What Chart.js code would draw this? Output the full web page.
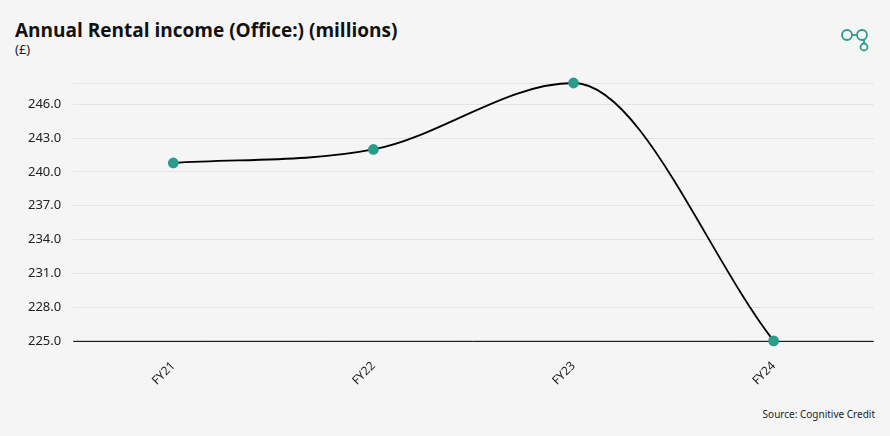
<!DOCTYPE html>
<html><head><meta charset="utf-8">
<script src="https://cdn.jsdelivr.net/npm/chart.js@4/dist/chart.umd.min.js"></script>
<style>
body{margin:0;background:#f5f5f5;width:890px;height:436px;overflow:hidden;font-family:"Noto Sans",sans-serif;position:relative}
#t{position:absolute;left:15px;top:17px;font:700 19px "Open Sans",sans-serif;color:#111}
#u{position:absolute;left:15px;top:40px;font-size:13px;color:#222}
#s{position:absolute;right:15px;top:407px;font-size:10px;color:#222}
#wrap{position:absolute;left:0;top:60px;width:880px;height:338px}
svg{position:absolute;left:840px;top:28px}
</style></head><body>
<div id="t">Annual Rental income (Office:) (millions)</div>
<div id="u">(£)</div>
<svg width="30" height="26"><g fill="none" stroke="#2a9d8a" stroke-width="1.8"><circle cx="7" cy="7" r="5"/><circle cx="22" cy="7" r="5"/><line x1="12" y1="7" x2="17" y2="7"/><line x1="24" y1="12" x2="24" y2="15"/><circle cx="24" cy="19" r="3.5"/></g></svg>
<div id="s">Source: Cognitive Credit</div>
<div id="wrap"><canvas id="c"></canvas></div>
<script>
const categories=["FY21","FY22","FY23","FY24"];
const values=[240.8,242.0,247.9,225.0];
new Chart(document.getElementById('c'),{type:'line',
data:{labels:categories,datasets:[{data:values,borderColor:'#000',borderWidth:1.8,cubicInterpolationMode:'monotone',clip:false,
pointBackgroundColor:'#2a9d8a',pointBorderColor:'#2a9d8a',pointRadius:4.5}]},
options:{responsive:true,maintainAspectRatio:false,animation:false,
layout:{padding:{top:23,left:16,right:2}},
plugins:{legend:{display:false},tooltip:{enabled:false}},
scales:{
x:{offset:true,grid:{display:false},border:{display:false},
ticks:{maxRotation:45,minRotation:45,color:'#222',font:{family:'Noto Sans',size:12},padding:10}},
y:{min:225,max:247.9,grid:{color:'#e4e4e4',drawTicks:false},border:{display:false},
afterBuildTicks:a=>{a.ticks=[225,228,231,234,237,240,243,246,247.9].map(v=>({value:v}));},
ticks:{color:'#222',font:{family:'Noto Sans',size:13},padding:12,
callback:v=>Math.abs(v%3)<1e-6?v.toFixed(1):''}}}},
plugins:[{id:'base',beforeDatasetsDraw(c){const y=c.scales.y.getPixelForValue(225),ctx=c.ctx;ctx.save();ctx.strokeStyle='#000';ctx.lineWidth=1;ctx.beginPath();ctx.moveTo(c.chartArea.left,y+0.5);ctx.lineTo(c.chartArea.right,y+0.5);ctx.stroke();ctx.restore();}}]
});
</script></body></html>
